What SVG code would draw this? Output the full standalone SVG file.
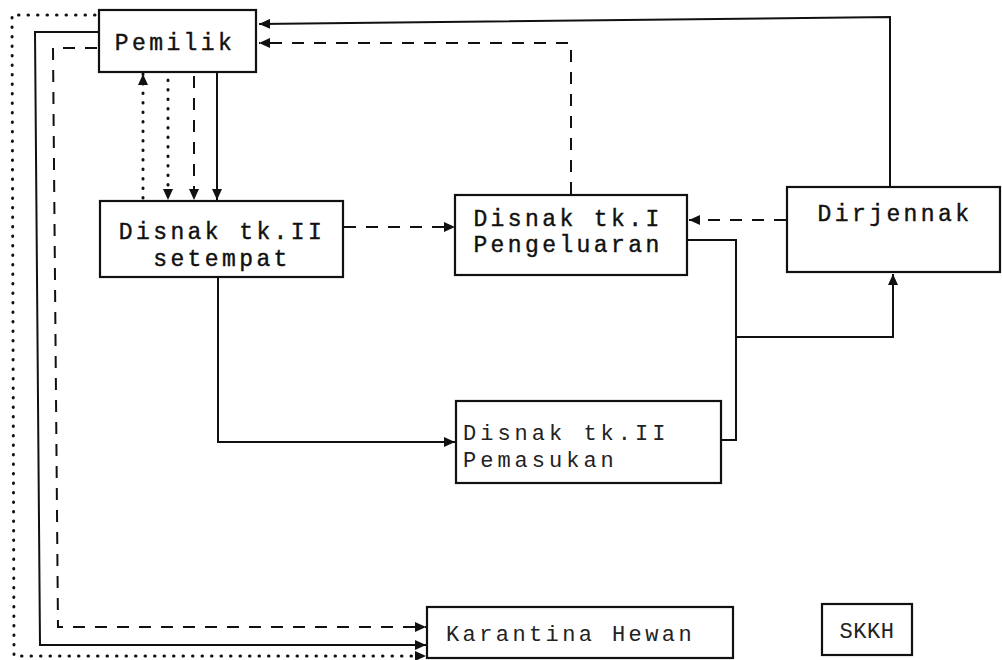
<svg xmlns="http://www.w3.org/2000/svg" width="1002" height="660" viewBox="0 0 1002 660">
<defs>
<marker id="ah" markerUnits="userSpaceOnUse" markerWidth="12" markerHeight="10" refX="11" refY="5" orient="auto"><path d="M0,0 L11,5 L0,10 z" fill="#111"/></marker>
<style>
.box{fill:#fff;stroke:#111;stroke-width:2.2}
.t{font-family:"Liberation Mono","DejaVu Sans Mono",monospace;font-size:23px;fill:#111;letter-spacing:3.4px;stroke:#111;stroke-width:0.4}
.tl{font-family:"Liberation Mono","DejaVu Sans Mono",monospace;font-size:22px;fill:#222;letter-spacing:4px}
.c{fill:none;stroke:#111;stroke-width:2}
.dash{stroke-dasharray:12 10}
.dot{stroke-width:3;stroke-dasharray:0.5 9;stroke-linecap:round}
</style>
</defs>
<rect width="1002" height="660" fill="#fff"/>
<g id="connectors">
<polyline class="c" points="890,187 890,17 259,24" marker-end="url(#ah)"/>
<polyline class="c dash" points="571,194 571,43 259,43" marker-end="url(#ah)"/>
<line class="c dot" x1="143" y1="198" x2="143" y2="74" marker-end="url(#ah)"/>
<line class="c dot" x1="168" y1="80" x2="168" y2="200" marker-end="url(#ah)"/>
<line class="c dash" x1="194" y1="76" x2="194" y2="200" marker-end="url(#ah)"/>
<line class="c" x1="217" y1="72" x2="217" y2="200" marker-end="url(#ah)"/>
<line class="c dash" x1="344" y1="227" x2="455" y2="227" marker-end="url(#ah)"/>
<line class="c dash" x1="786" y1="220" x2="689" y2="220" marker-end="url(#ah)"/>
<polyline class="c" points="687,240 736,240 736,440 721,440"/>
<polyline class="c" points="736,337 893,337 893,274" marker-end="url(#ah)"/>
<polyline class="c" points="218,277 218,442 455,442" marker-end="url(#ah)"/>
<polyline class="c" points="99,32 35,32 40,645 426,645" marker-end="url(#ah)"/>
<polyline class="c dash" points="97,48 53,48 58,627 426,627" marker-end="url(#ah)"/>
<polyline class="c dot" points="95,15 12,15 14,656 426,656" marker-end="url(#ah)"/>
</g>
<g id="pemilik">
<rect class="box" x="99" y="10" width="157" height="62"/>
<text class="t" x="175" y="50" text-anchor="middle">Pemilik</text>
</g>
<g id="disnak-setempat">
<rect class="box" x="100" y="201" width="243" height="76"/>
<text class="t" x="222" y="239" text-anchor="middle">Disnak tk.II</text>
<text class="t" x="222" y="266" text-anchor="middle">setempat</text>
</g>
<g id="disnak-pengeluaran">
<rect class="box" x="455" y="195" width="232" height="80"/>
<text class="t" x="568" y="226" text-anchor="middle">Disnak tk.I</text>
<text class="t" x="568" y="252" text-anchor="middle">Pengeluaran</text>
</g>
<g id="dirjennak">
<rect class="box" x="787" y="187" width="213" height="85"/>
<text class="t" x="895" y="221" text-anchor="middle">Dirjennak</text>
</g>
<g id="disnak-pemasukan">
<rect class="box" x="456" y="401" width="265" height="82"/>
<text class="tl" x="463" y="440">Disnak tk.II</text>
<text class="tl" x="463" y="467">Pemasukan</text>
</g>
<g id="karantina">
<rect class="box" x="427" y="607" width="306" height="51"/>
<text class="tl" x="446" y="641" style="letter-spacing:3.4px">Karantina Hewan</text>
</g>
<g id="skkh">
<rect class="box" x="822" y="604" width="90" height="51"/>
<text class="tl" x="867" y="638" text-anchor="middle" style="letter-spacing:0.5px">SKKH</text>
</g>
</svg>
